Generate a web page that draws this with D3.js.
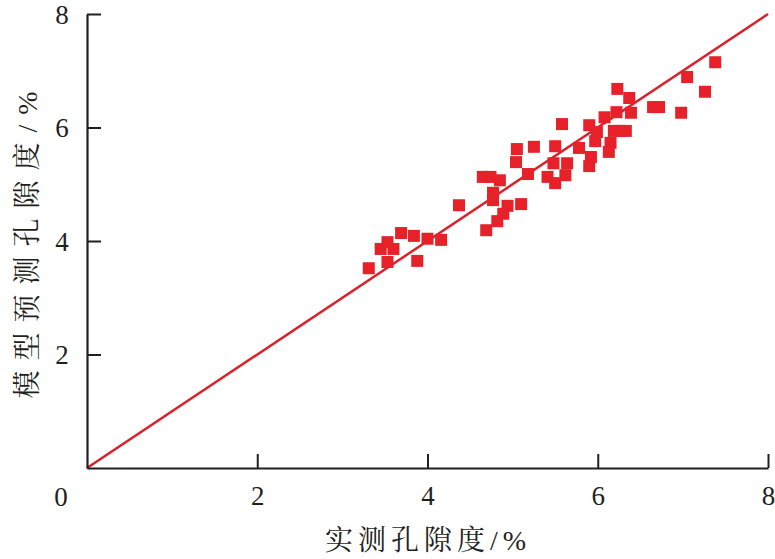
<!DOCTYPE html>
<html><head><meta charset="utf-8">
<script src="https://cdn.jsdelivr.net/npm/d3@7"></script>
<style>body{margin:0;background:#fff}svg{display:block}</style>
</head><body>
<svg id="c" width="775" height="559"></svg>
<script>
const measured = [3.31,3.45,3.53,3.53,3.60,3.69,3.84,3.88,4.00,4.16,4.37,4.65,4.74,4.69,4.77,4.77,4.85,4.82,4.89,4.94,5.10,5.04,5.05,5.18,5.25,5.41,5.50,5.48,5.50,5.58,5.62,5.64,5.78,5.90,5.92,5.90,5.97,5.99,6.08,6.15,6.13,6.22,6.19,6.23,6.26,6.33,6.37,6.39,6.65,6.72,6.98,7.05,7.26,7.38];
const predicted = [3.52,3.86,3.98,3.63,3.86,4.14,4.09,3.65,4.04,4.02,4.63,5.13,5.13,4.19,4.85,4.72,5.07,4.35,4.48,4.62,4.65,5.39,5.62,5.18,5.66,5.13,5.02,5.37,5.67,6.06,5.16,5.37,5.64,5.32,5.48,6.04,5.76,5.92,6.18,5.73,5.57,6.27,5.94,6.68,5.94,5.94,6.52,6.26,6.36,6.36,6.26,6.89,6.63,7.15];
const xTicks = [2,4,6,8];
const yTicks = [2,4,6,8];
const originLabel = "0";
const xTitle = "实测孔隙度/%";
const yTitle = "模型预测孔隙度/%";

const svg = d3.select("#c");
const x = d3.scaleLinear().domain([0,8]).range([87,768]);
const y = d3.scaleLinear().domain([0,8]).range([468,14]);
const numFont = "'Liberation Serif','Times New Roman',serif";
const cjkFont = "'Liberation Serif','Noto Serif CJK SC','Noto Sans CJK SC',serif";

// diagonal 1:1 line
svg.append("line")
  .attr("x1", x(0)).attr("y1", y(0)).attr("x2", x(8)).attr("y2", y(8))
  .attr("stroke", "#d9222b").attr("stroke-width", 2.5);

// points
const s = 12;
svg.append("g").selectAll("rect").data(measured.map((m,i)=>[m,predicted[i]]))
  .join("rect")
  .attr("x", d=>x(d[0])-s/2).attr("y", d=>y(d[1])-s/2)
  .attr("width", s).attr("height", s)
  .attr("fill", "#e6212a");

// axes
const xAxis = d3.axisBottom(x).tickValues(xTicks).tickSizeInner(-14).tickSizeOuter(0).tickPadding(25).tickFormat(d3.format("d"));
const gx = svg.append("g").attr("transform", `translate(0,${y(0)})`).call(xAxis);
const yAxis = d3.axisLeft(y).tickValues(yTicks).tickSizeInner(-14).tickSizeOuter(0).tickPadding(25).tickFormat(d3.format("d"));
const gy = svg.append("g").attr("transform", `translate(${x(0)},0)`).call(yAxis);
[gx, gy].forEach(g => {
  g.select(".domain").attr("stroke", "#231f20").attr("stroke-width", 2.2);
  g.selectAll(".tick line").attr("stroke", "#231f20").attr("stroke-width", 2);
  g.selectAll(".tick text").attr("font-family", numFont).attr("font-size", 27).attr("fill", "#231f20");
});
gx.selectAll(".tick text").attr("dy", "0.71em").attr("y", 18);
gy.selectAll(".tick text").attr("text-anchor", "middle").attr("x", -25).attr("dy", "0.35em");

// origin label
svg.append("text").attr("x", x(0)-26).attr("y", y(0)+29)
  .attr("text-anchor", "middle").attr("dy", "0.35em")
  .attr("font-family", numFont).attr("font-size", 27).attr("fill", "#231f20")
  .text(originLabel);

// titles
svg.append("text").attr("x", 428).attr("y", 540).attr("dy", "0.35em")
  .attr("text-anchor", "middle")
  .attr("font-family", cjkFont).attr("font-size", 28).attr("letter-spacing", 5).attr("fill", "#231f20")
  .text(xTitle);
svg.append("text").attr("transform", "translate(27,240) rotate(-90)").attr("dy", "0.35em")
  .attr("text-anchor", "middle")
  .attr("font-family", cjkFont).attr("font-size", 28).attr("letter-spacing", 10).attr("fill", "#231f20")
  .text(yTitle);
</script>
</body></html>
